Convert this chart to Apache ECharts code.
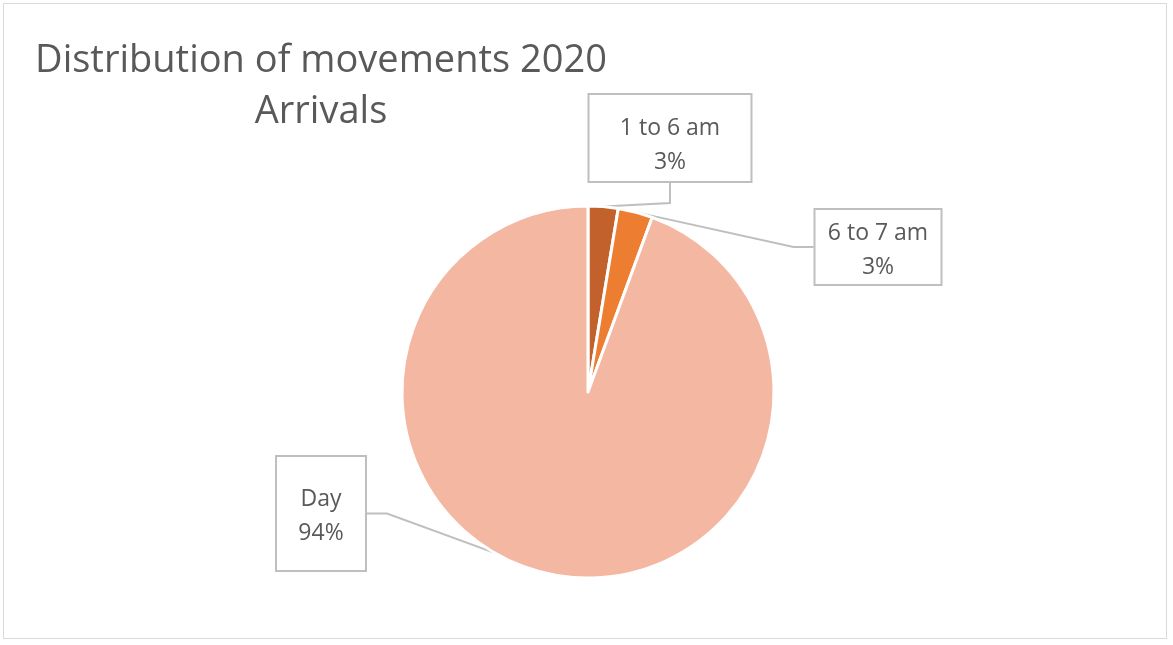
<!DOCTYPE html>
<html>
<head>
<meta charset="utf-8">
<script src="https://cdn.jsdelivr.net/npm/echarts@6/dist/echarts.min.js"></script>
<style>
html,body{margin:0;padding:0;background:#fff;}
#wrap{position:relative;width:1173px;height:645px;overflow:hidden;}
#frame{position:absolute;left:3px;top:3px;width:1164px;height:636px;border:1px solid #d9d9d9;box-sizing:border-box;}
#chart{position:absolute;left:0;top:0;width:1173px;height:645px;}
</style>
</head>
<body>
<div id="wrap"><div id="frame"></div><div id="chart"></div></div>
<script>
const categories = ['1 to 6 am', '6 to 7 am', 'Day'];
const values = [2.6, 3.0, 94.4];
const colors = ['#C2612B', '#ED7D31', '#F4B8A2'];

// callout box geometry (layout only)
const boxes = [
  {cx: 670, top: 95, w: 165, h: 90, pt: 16},
  {cx: 878, top: 210, w: 129, h: 78, pt: 6},
  {cx: 321, top: 457, w: 92, h: 117, pt: 25}
];

const chart = echarts.init(document.getElementById('chart'));
const font = '"Open Sans", "Noto Sans", sans-serif';
chart.setOption({
  animation: false,
  title: {
    text: 'Distribution of movements 2020\nArrivals',
    left: 316,
    top: 31,
    textAlign: 'center',
    textStyle: {
      fontFamily: font,
      fontSize: 38,
      fontWeight: 'normal',
      color: '#595959',
      lineHeight: 51
    }
  },
  series: [{
    type: 'pie',
    center: [588, 392],
    radius: 186,
    startAngle: 90,
    clockwise: true,
    itemStyle: {borderColor: '#fff', borderWidth: 3},
    label: {
      show: true,
      formatter: p => p.name + '\n' + Math.round(p.percent) + '%',
      fontFamily: font,
      fontSize: 23,
      color: '#595959',
      lineHeight: 34,
      backgroundColor: '#fff',
      borderColor: '#bfbfbf',
      borderWidth: 2,
      align: 'center',
      verticalAlign: 'top'
    },
    labelLine: {
      show: true,
      length: 20,
      length2: 20,
      lineStyle: {color: '#bfbfbf', width: 2}
    },
    labelLayout: function (params) {
      const b = boxes[params.dataIndex];
      return {x: b.cx, y: b.top, align: 'center', verticalAlign: 'top'};
    },
    data: categories.map((c, i) => {
      const b = boxes[i];
      return {
        name: c,
        value: values[i],
        itemStyle: {color: colors[i]},
        label: {
          width: b.w - 4,
          height: b.h - 4 - b.pt,
          padding: [b.pt, 0, 0, 0]
        }
      };
    })
  }]
});
</script>
</body>
</html>
